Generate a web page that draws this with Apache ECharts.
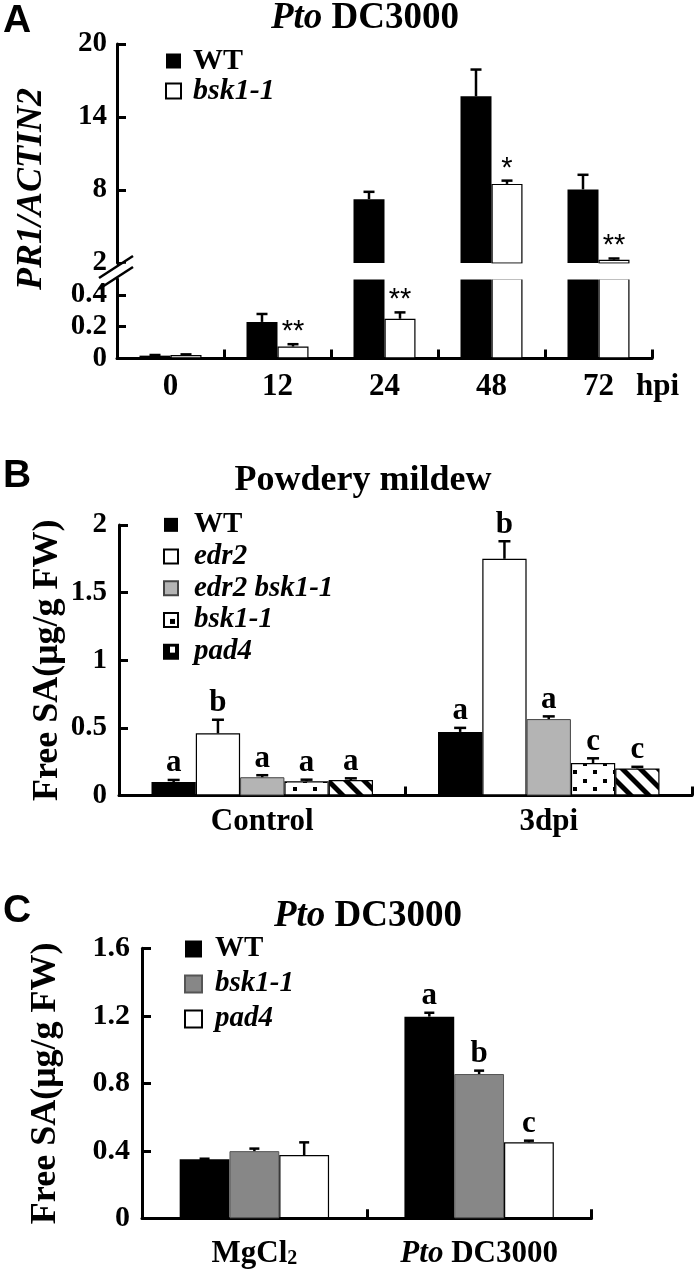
<!DOCTYPE html>
<html><head><meta charset="utf-8">
<script src="https://cdn.jsdelivr.net/npm/echarts@6/dist/echarts.min.js"></script>
<style>
html,body{margin:0;padding:0;background:#fff;}
.p{position:absolute;left:0;width:697px;}
#pa{top:0;height:420px;} #pb{top:420px;height:440px;} #pc{top:860px;height:412px;}
</style></head><body>
<div id="pa" class="p"></div><div id="pb" class="p"></div><div id="pc" class="p"></div>
<script>
// ---------------- DATA ----------------
// Panel A: PR1/ACTIN2 after Pto DC3000
const aCategories = ['0', '12', '24', '48', '72'];
const aWT      = [0.018, 0.23, 7.25, 15.7, 8.05];
const aWTErr   = [0.004, 0.05, 0.6, 2.2, 1.2];
const aBsk     = [0.022, 0.075, 0.25, 8.5, 2.27];
const aBskErr  = [0.004, 0.015, 0.04, 0.27, 0.1];
const aMarks   = ['', '**', '**', '*', '**'];
const aUpperTicks = [2, 8, 14, 20];
const aLowerTicks = [0, 0.2, 0.4];

// Panel B: Free SA, powdery mildew
const bCategories = ['Control', '3dpi'];
const bNames   = ['WT', 'edr2', 'edr2 bsk1-1', 'bsk1-1', 'pad4'];
const bWT      = [0.10, 0.47];
const bEdr2    = [0.46, 1.75];
const bEdrBsk  = [0.135, 0.565];
const bBsk     = [0.105, 0.24];
const bPad4    = [0.115, 0.20];
const bWTErr     = [0.015, 0.03];
const bEdr2Err   = [0.10, 0.13];
const bEdrBskErr = [0.015, 0.02];
const bBskErr    = [0.012, 0.035];
const bPad4Err   = [0.012, 0.012];
const bLetters = [['a', 'a'], ['b', 'b'], ['a', 'a'], ['a', 'c'], ['a', 'c']];

// Panel C: Free SA, Pto DC3000
const cCategories = ['MgCl2', 'Pto DC3000'];
const cNames   = ['WT', 'bsk1-1', 'pad4'];
const cWT      = [0.35, 1.195];
const cBsk     = [0.398, 0.855];
const cPad4    = [0.375, 0.45];
const cWTErr   = [0.003, 0.023];
const cBskErr  = [0.015, 0.02];
const cPad4Err = [0.075, 0.01];
const cLetters = [['', 'a'], ['', 'b'], ['', 'c']];

// ---------------- STYLE ----------------
const SERIF = '"Liberation Serif","Times New Roman",serif';
const SANS = '"Liberation Sans",Arial,sans-serif';
const axisLineS = {show: true, lineStyle: {color: '#000', width: 3}};
function tickS(extra) { return Object.assign({show: true, inside: true, length: 9, lineStyle: {color: '#000', width: 3}}, extra || {}); }
function lab(extra) { return Object.assign({fontFamily: SERIF, fontWeight: 'bold', fontSize: 29, color: '#000'}, extra || {}); }
const italicRich = (fs, lh) => ({i: {fontFamily: SERIF, fontWeight: 'bold', fontStyle: 'italic', fontSize: fs, color: '#000', lineHeight: lh}});

function makeCanvas(w, h, draw) { const c = document.createElement('canvas'); c.width = w; c.height = h; draw(c.getContext('2d')); return c; }
const dotTile = makeCanvas(20, 17, g => { g.fillStyle = '#fff'; g.fillRect(0, 0, 20, 17); g.fillStyle = '#000'; g.fillRect(3, 2, 4, 4); g.fillRect(13, 10, 4, 4); });
const stripeTile = makeCanvas(18, 18, g => { g.fillStyle = '#fff'; g.fillRect(0, 0, 18, 18); g.fillStyle = '#000';
  for (let k = -1; k <= 1; k++) { g.beginPath(); g.moveTo(k * 18, 0); g.lineTo(k * 18 + 7, 0); g.lineTo(k * 18 + 25, 18); g.lineTo(k * 18 + 18, 18); g.closePath(); g.fill(); } });
const bskIcon = makeCanvas(14, 14, g => { g.fillStyle = '#fff'; g.fillRect(0, 0, 14, 14); g.fillStyle = '#000'; g.fillRect(6, 6, 5, 5); });
const padIcon = makeCanvas(14, 14, g => { g.fillStyle = '#000'; g.fillRect(0, 0, 14, 14); g.fillStyle = '#fff'; g.fillRect(6, 2, 5, 6); });

function legendFmt(n) { return n === 'WT' ? n : '{i|' + n + '}'; }

function errSeries(o) {
  return {
    type: 'custom', xAxisIndex: o.xi || 0, yAxisIndex: o.yi || 0, z: 5, silent: true, clip: false,
    encode: {x: 0, y: 1}, data: o.data,
    renderItem: function (params, api) {
      const cat = api.value(0), v = api.value(1), e = api.value(2), s = api.value(3);
      const p0 = api.coord([cat, v]), p1 = api.coord([cat, v + e]);
      const cx = p0[0] + (s - (o.n - 1) / 2) * o.barW;
      const ch = [
        {type: 'line', shape: {x1: cx, y1: p0[1], x2: cx, y2: p1[1]}, style: {stroke: '#000', lineWidth: 2.5}},
        {type: 'line', shape: {x1: cx - o.cap, y1: p1[1], x2: cx + o.cap, y2: p1[1]}, style: {stroke: '#000', lineWidth: 2.5}}
      ];
      const t = o.labels[s] ? o.labels[s][cat] : '';
      if (t) ch.push({type: 'text', style: {text: t, x: cx, y: p1[1] + o.dy, align: 'center', verticalAlign: o.va, font: o.font, fill: '#000'}});
      return {type: 'group', children: ch};
    }
  };
}
function errData(vals, errs, test) {
  const out = [];
  vals.forEach((arr, s) => arr.forEach((v, c) => { if (!test || test(v)) out.push([c, v, errs[s][c], s]); }));
  return out;
}
function panelTitle(text, cx, top, fs) {
  return {text: text, left: cx, top: top, textAlign: 'center', padding: 0,
    textStyle: {fontFamily: SERIF, fontWeight: 'bold', fontSize: fs, color: '#000', rich: italicRich(fs)}};
}
function panelLetter(t, top) {
  return {text: t, left: 3, top: top, padding: 0, textStyle: {fontFamily: SANS, fontWeight: 'bold', fontSize: 39, color: '#000'}};
}

// ---------------- PANEL A ----------------
const barWA = 31;
const white = {color: '#fff', borderColor: '#000', borderWidth: 1.2};
const optA = {
  animation: false,
  title: [panelTitle('{i|Pto} DC3000', 365, 0, 37), panelLetter('A', 2)],
  legend: {orient: 'vertical', left: 165, top: 46, padding: 0, itemWidth: 15, itemHeight: 15, itemGap: 0, icon: 'rect', selectedMode: false,
    textStyle: {fontFamily: SERIF, fontWeight: 'bold', fontSize: 30, lineHeight: 30, color: '#000', padding: [0, 0, 0, 7], rich: italicRich(30, 30)},
    formatter: legendFmt, data: ['WT', 'bsk1-1']},
  grid: [
    {left: 117, top: 44, width: 535, height: 219, outerBoundsMode: 'none'},
    {left: 117, top: 279, width: 535, height: 79.5, outerBoundsMode: 'none'}
  ],
  xAxis: [
    {gridIndex: 0, type: 'category', data: aCategories, axisLine: {show: false}, axisTick: {show: false}, axisLabel: {show: false}},
    {gridIndex: 1, type: 'category', data: aCategories, axisLine: axisLineS, axisTick: tickS(), axisLabel: lab({margin: 13, fontSize: 31, interval: 0}),
     name: 'hpi', nameLocation: 'end', nameGap: -16, nameMoveOverlap: false,
     nameTextStyle: {fontFamily: SERIF, fontWeight: 'bold', fontSize: 31, color: '#000', align: 'left', verticalAlign: 'top', padding: [13, 0, 0, 0]}}
  ],
  yAxis: [
    {gridIndex: 0, type: 'value', min: 2, max: 20, axisLine: axisLineS, axisTick: tickS({customValues: aUpperTicks}),
     axisLabel: lab({margin: 10, customValues: aUpperTicks}), splitLine: {show: false}},
    {gridIndex: 1, type: 'value', min: 0, max: 0.5, axisLine: axisLineS, axisTick: tickS({customValues: aLowerTicks}),
     axisLabel: lab({margin: 10, customValues: aLowerTicks}), splitLine: {show: false}}
  ],
  series: [
    {name: 'WT', type: 'bar', xAxisIndex: 0, yAxisIndex: 0, barWidth: barWA, barGap: '0%', data: aWT.map(v => v > 2 ? v : '-'), itemStyle: {color: '#000'}},
    {name: 'bsk1-1', type: 'bar', xAxisIndex: 0, yAxisIndex: 0, barWidth: barWA, barGap: '0%', data: aBsk.map(v => v > 2 ? v : '-'), itemStyle: white},
    {name: 'WT', type: 'bar', xAxisIndex: 1, yAxisIndex: 1, barWidth: barWA, barGap: '0%', clip: true, data: aWT, itemStyle: {color: '#000'}},
    {name: 'bsk1-1', type: 'bar', xAxisIndex: 1, yAxisIndex: 1, barWidth: barWA, barGap: '0%', clip: true, data: aBsk, itemStyle: white},
    errSeries({xi: 0, yi: 0, n: 2, barW: barWA, cap: 5.5, labels: [[], aMarks], dy: -12, va: 'middle', font: '29px ' + SANS,
      data: errData([aWT, aBsk], [aWTErr, aBskErr], v => v > 2)}),
    errSeries({xi: 1, yi: 1, n: 2, barW: barWA, cap: 5.5, labels: [[], aMarks], dy: -12, va: 'middle', font: '29px ' + SANS,
      data: errData([aWT, aBsk], [aWTErr, aBskErr], v => v <= 0.5)})
  ],
  graphic: [
    {type: 'rect', silent: true, z: 100, shape: {x: 119, y: 263.8, width: 533, height: 15.8}, style: {fill: '#fff'}},
    {type: 'line', silent: true, z: 101, shape: {x1: 99, y1: 278, x2: 133, y2: 256}, style: {stroke: '#000', lineWidth: 2.5}},
    {type: 'line', silent: true, z: 101, shape: {x1: 99, y1: 289, x2: 133, y2: 267}, style: {stroke: '#000', lineWidth: 2.5}},
    {type: 'text', silent: true, z: 101, x: 50, y: 189, rotation: Math.PI / 2,
     style: {text: 'PR1/ACTIN2', font: 'italic bold 36px ' + SERIF, align: 'center', verticalAlign: 'bottom', fill: '#000'}}
  ]
};

// ---------------- PANEL B ----------------
const barWB = 44.3;
const bVals = [bWT, bEdr2, bEdrBsk, bBsk, bPad4];
const bErrs = [bWTErr, bEdr2Err, bEdrBskErr, bBskErr, bPad4Err];
const bStyles = [
  {color: '#000'},
  {color: '#fff', borderColor: '#000', borderWidth: 1.2},
  {color: '#b4b4b4', borderColor: '#444', borderWidth: 1},
  {color: {image: dotTile, repeat: 'repeat'}, borderColor: '#000', borderWidth: 1.2},
  {color: {image: stripeTile, repeat: 'repeat'}, borderColor: '#000', borderWidth: 1.2}
];
const optB = {
  animation: false,
  title: [panelTitle('Powdery mildew', 363, 43, 36), panelLetter('B', 37)],
  legend: {orient: 'vertical', left: 163, top: 89, padding: 0, itemWidth: 14, itemHeight: 14, itemGap: 0, icon: 'rect', selectedMode: false,
    textStyle: {fontFamily: SERIF, fontWeight: 'bold', fontSize: 29, lineHeight: 31.7, color: '#000', padding: [0, 0, 0, 11], rich: italicRich(29, 31.7)},
    formatter: legendFmt,
    data: ['WT', 'edr2', 'edr2 bsk1-1',
      {name: 'bsk1-1', itemStyle: {color: {image: bskIcon, repeat: 'no-repeat'}}},
      {name: 'pad4', itemStyle: {color: {image: padIcon, repeat: 'no-repeat'}}}]},
  grid: {left: 119, top: 105, width: 573, height: 270.5, outerBoundsMode: 'none'},
  xAxis: {type: 'category', data: bCategories, axisLine: axisLineS, axisTick: tickS(), axisLabel: lab({margin: 11, fontSize: 31, interval: 0})},
  yAxis: {type: 'value', min: 0, max: 2, interval: 0.5, axisLine: axisLineS, axisTick: tickS(), axisLabel: lab({margin: 12}), splitLine: {show: false},
    name: 'Free SA(μg/g FW)', nameLocation: 'middle', nameGap: 53, nameMoveOverlap: false,
    nameTextStyle: {fontFamily: SERIF, fontWeight: 'bold', fontSize: 36, color: '#000'}},
  series: bNames.map((n, i) => ({name: n, type: 'bar', barWidth: barWB, barGap: '0%', data: bVals[i], itemStyle: bStyles[i]}))
    .concat([errSeries({n: 5, barW: barWB, cap: 6, labels: bLetters, dy: -1, va: 'bottom', font: 'bold 31px ' + SERIF, data: errData(bVals, bErrs)})])
};

// ---------------- PANEL C ----------------
const barWC = 49.8;
const cVals = [cWT, cBsk, cPad4];
const cErrs = [cWTErr, cBskErr, cPad4Err];
const cStyles = [
  {color: '#000'},
  {color: '#878787', borderColor: '#555', borderWidth: 1},
  {color: '#fff', borderColor: '#000', borderWidth: 1.2}
];
const optC = {
  animation: false,
  title: [panelTitle('{i|Pto} DC3000', 368, 38, 37), panelLetter('C', 32)],
  legend: {orient: 'vertical', left: 184, top: 71.5, padding: 0, itemWidth: 17, itemHeight: 17, itemGap: 0, icon: 'rect', selectedMode: false,
    textStyle: {fontFamily: SERIF, fontWeight: 'bold', fontSize: 29, lineHeight: 35, color: '#000', padding: [0, 0, 0, 8], rich: italicRich(29, 35)},
    formatter: legendFmt, data: cNames},
  grid: {left: 142, top: 88.3, width: 449.5, height: 270, outerBoundsMode: 'none'},
  xAxis: {type: 'category', data: cCategories, axisLine: axisLineS, axisTick: tickS(),
    axisLabel: lab({margin: 20, fontSize: 31, interval: 0,
      formatter: v => v === 'MgCl2' ? 'MgCl{s|2}' : (v === 'Pto DC3000' ? '{i|Pto} DC3000' : v),
      rich: {s: {fontFamily: SERIF, fontWeight: 'bold', fontSize: 20, color: '#000', verticalAlign: 'bottom'},
             i: {fontFamily: SERIF, fontWeight: 'bold', fontStyle: 'italic', fontSize: 31, color: '#000'}}})},
  yAxis: {type: 'value', min: 0, max: 1.6, interval: 0.4, axisLine: axisLineS, axisTick: tickS(), axisLabel: lab({margin: 12, fontSize: 30}), splitLine: {show: false},
    name: 'Free SA(μg/g FW)', nameLocation: 'middle', nameGap: 78, nameMoveOverlap: false,
    nameTextStyle: {fontFamily: SERIF, fontWeight: 'bold', fontSize: 36, color: '#000'}},
  series: cNames.map((n, i) => ({name: n, type: 'bar', barWidth: barWC, barGap: '0%', data: cVals[i], itemStyle: cStyles[i]}))
    .concat([errSeries({n: 3, barW: barWC, cap: 5, labels: cLetters, dy: -1, va: 'bottom', font: 'bold 31px ' + SERIF, data: errData(cVals, cErrs)})])
};

echarts.init(document.getElementById('pa')).setOption(optA);
echarts.init(document.getElementById('pb')).setOption(optB);
echarts.init(document.getElementById('pc')).setOption(optC);
</script>
</body></html>
